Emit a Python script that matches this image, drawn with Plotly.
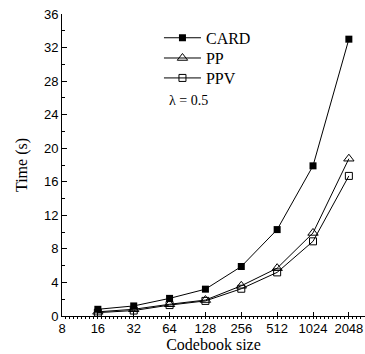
import numpy as np
import plotly.graph_objects as go

codebook = [16, 32, 64, 128, 256, 512, 1024, 2048]
card = [0.8, 1.2, 2.1, 3.2, 5.9, 10.3, 17.9, 33.0]
pp = [0.5, 0.8, 1.4, 1.9, 3.6, 5.7, 9.9, 18.75]
ppv = [0.4, 0.65, 1.3, 1.8, 3.25, 5.2, 8.9, 16.7]
x_ticks = [8, 16, 32, 64, 128, 256, 512, 1024, 2048]
y_ticks = [0, 4, 8, 12, 16, 20, 24, 28, 32, 36]

xs = np.log2(codebook)

fig = go.Figure()
fig.add_trace(go.Scatter(x=xs, y=card, name="CARD", mode="lines+markers", legend="legend",
                         line=dict(color="black", width=1),
                         marker=dict(symbol="square", size=7, color="black")))
fig.add_trace(go.Scatter(x=xs, y=pp, name="PP", mode="lines+markers", legend="legend2",
                         line=dict(color="black", width=1),
                         marker=dict(symbol="triangle-up-open", size=9, color="black",
                                     line=dict(width=1))))
fig.add_trace(go.Scatter(x=xs, y=ppv, name="PPV", mode="lines+markers", legend="legend3",
                         line=dict(color="black", width=1),
                         marker=dict(symbol="square-open", size=7, color="black",
                                     line=dict(width=1))))

fig.add_annotation(x=0.345, y=0.715, xref="paper", yref="paper", text="λ = 0.5",
                   showarrow=False, xanchor="left", yanchor="middle",
                   font=dict(family="Liberation Serif", size=14, color="black"))

leg_font = dict(family="Liberation Serif", size=16, color="black")
def leg(y):
    return dict(x=0.32, y=y, xanchor="left", yanchor="middle", font=leg_font,
                bgcolor="rgba(0,0,0,0)", itemwidth=37, borderwidth=0)

fig.update_layout(
    width=365, height=354,
    margin=dict(l=62, r=0, t=14, b=38),
    paper_bgcolor="white", plot_bgcolor="white",
    showlegend=True,
    legend=leg(0.921), legend2=leg(0.854), legend3=leg(0.788),
    xaxis=dict(range=[3, 11.45], tickvals=np.log2(x_ticks), ticktext=[str(v) for v in x_ticks],
               showgrid=False, zeroline=False, showline=True, linecolor="black", linewidth=1,
               ticks="inside", ticklen=4, tickcolor="black", tickwidth=1,
               tickfont=dict(family="Liberation Sans", size=13, color="black"),
               minor=dict(dtick=1/9, tick0=3, ticks="outside", ticklen=2, tickcolor="black", showgrid=False),
               title=dict(text="Codebook size", standoff=2,
                          font=dict(family="Liberation Serif", size=16, color="black"))),
    yaxis=dict(range=[0, 36], tickvals=y_ticks,
               showgrid=False, zeroline=False, showline=True, linecolor="black", linewidth=1,
               ticks="inside", ticklen=5, tickcolor="black", tickwidth=1,
               tickfont=dict(family="Liberation Sans", size=13, color="black"),
               minor=dict(dtick=2, ticks="inside", ticklen=3, tickcolor="black", showgrid=False),
               title=dict(text="Time (s)", standoff=12,
                          font=dict(family="Liberation Serif", size=16, color="black"))),
)

fig.write_html("out.html")
